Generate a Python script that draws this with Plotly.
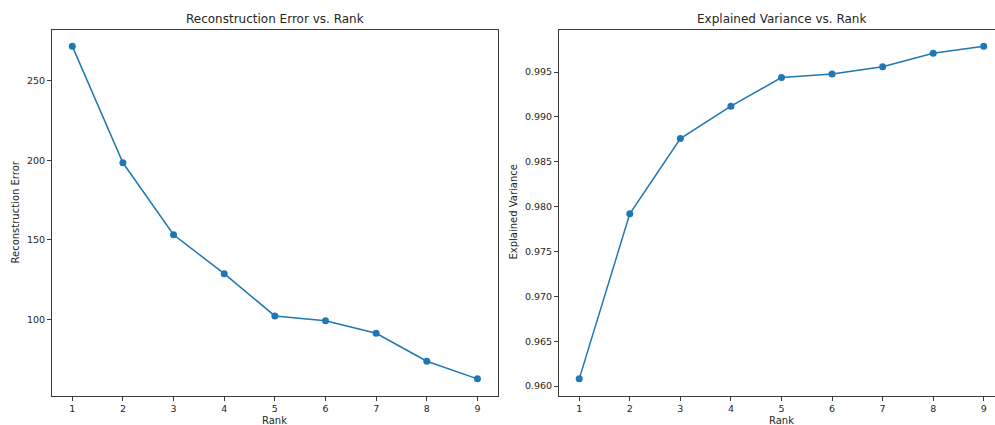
import plotly.graph_objects as go
from plotly.subplots import make_subplots

# Rank sweep results
ranks = [1, 2, 3, 4, 5, 6, 7, 8, 9]
recon_error = [271.9, 198.5, 153.2, 128.7, 102.1, 99.1, 91.2, 73.6, 62.5]
explained_var = [0.9608, 0.9792, 0.9876, 0.9912, 0.9944, 0.9948, 0.9956, 0.9971, 0.9979]

W, H = 995, 425
BLUE = "#1f77b4"
FONT = "DejaVu Sans"
SPINE = "#3a3a3a"
TEXT = "#262626"


def px_x(v):
    return v / W


def px_y(v):
    return 1 - v / H


fig = make_subplots(rows=1, cols=2)

fig.add_trace(go.Scatter(x=ranks, y=recon_error, mode="lines+markers",
                         line=dict(color=BLUE, width=1.5),
                         marker=dict(color=BLUE, size=7),
                         showlegend=False), row=1, col=1)
fig.add_trace(go.Scatter(x=ranks, y=explained_var, mode="lines+markers",
                         line=dict(color=BLUE, width=1.5),
                         marker=dict(color=BLUE, size=7),
                         showlegend=False), row=1, col=2)


def padded(vals, frac=0.05):
    lo, hi = min(vals), max(vals)
    m = (hi - lo) * frac
    return [lo - m, hi + m]


axis_common = dict(showgrid=False, zeroline=False, showline=True, linecolor=SPINE,
                   linewidth=1, ticks="outside", ticklen=4, tickwidth=1,
                   tickcolor=SPINE, tickfont=dict(family=FONT, size=9.5, color=TEXT))

top, bottom = 29.5, 395.5
fig.update_layout(
    width=W, height=H, margin=dict(l=0, r=0, t=0, b=0),
    paper_bgcolor="white", plot_bgcolor="white",
    xaxis=dict(domain=[px_x(52), px_x(497.7)], range=[0.6, 9.4],
               tickvals=ranks, mirror=True, **axis_common),
    yaxis=dict(domain=[px_y(bottom), px_y(top)], range=padded(recon_error),
               tickvals=[100, 150, 200, 250], mirror=True, **axis_common),
    # right panel runs past the page edge, so its right spine is not shown
    xaxis2=dict(domain=[px_x(559), 1.0],
                range=[0.6, 9.4 - (1004 - 995) / 50.6],
                tickvals=ranks, mirror=True, **axis_common),
    yaxis2=dict(domain=[px_y(bottom), px_y(top)], range=padded(explained_var),
                tickvals=[0.960, 0.965, 0.970, 0.975, 0.980, 0.985, 0.990, 0.995],
                tickformat=".3f", mirror=False, **axis_common),
)

annots = [
    dict(text="Reconstruction Error vs. Rank", x=px_x(274.9), y=px_y(19), size=12),
    dict(text="Explained Variance vs. Rank", x=px_x(781.5), y=px_y(19), size=12),
    dict(text="Rank", x=px_x(274.9), y=px_y(420), size=10),
    dict(text="Rank", x=px_x(781.5), y=px_y(420), size=10),
    dict(text="Reconstruction Error", x=px_x(15), y=px_y(212.5), size=10, angle=-90),
    dict(text="Explained Variance", x=px_x(513), y=px_y(212.5), size=10, angle=-90),
]
for a in annots:
    fig.add_annotation(text=a["text"], x=a["x"], y=a["y"], xref="paper", yref="paper",
                       xanchor="center", yanchor="middle", showarrow=False,
                       textangle=a.get("angle", 0),
                       font=dict(family=FONT, size=a["size"], color=TEXT))

fig.write_html("out.html")
